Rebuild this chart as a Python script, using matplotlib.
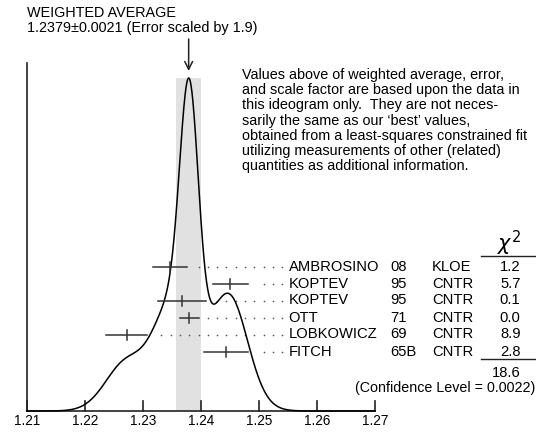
import numpy as np
import matplotlib
matplotlib.use("Agg")
import matplotlib.pyplot as plt

plt.rcParams['font.family'] = ['Liberation Sans', 'DejaVu Sans']

# measurements (K+- mean life, 10^-8 s)
names = ['AMBROSINO', 'KOPTEV', 'KOPTEV', 'OTT', 'LOBKOWICZ', 'FITCH']
years = ['08', '95', '95', '71', '69', '65B']
exps = ['KLOE', 'CNTR', 'CNTR', 'CNTR', 'CNTR', 'CNTR']
values = [1.2347, 1.2451, 1.2368, 1.2380, 1.2272, 1.2443]
errors = [0.0030, 0.0030, 0.0041, 0.0016, 0.0036, 0.0038]
chi2 = ['1.2', '5.7', '0.1', '0.0', '8.9', '2.8']
chi2_total = '18.6'
conf_level = '0.0022'
avg, avg_err, scale = 1.2379, 0.0021, 1.9
ticks = [1.21, 1.22, 1.23, 1.24, 1.25, 1.26, 1.27]

W, H = 536, 432
fig = plt.figure(figsize=(W / 100, H / 100), dpi=100)

# x in data units, y in pixels (top = 0)
x0_px, x1_px = 26.7, 375.0
ppu = (x1_px - x0_px) / (ticks[-1] - ticks[0])
ax = fig.add_axes([0, 0, 1, 1])
ax.set_xlim(ticks[0] - x0_px / ppu, ticks[-1] + (W - x1_px) / ppu)
ax.set_ylim(H, 0)
ax.axis('off')

# overlay in pure pixel coords for the text layout
ov = fig.add_axes([0, 0, 1, 1])
ov.set_xlim(0, W)
ov.set_ylim(H, 0)
ov.axis('off')
ov.patch.set_alpha(0)

base_y = 411
peak_y = 78
ink = '#222222'

# shaded band of the weighted average
ax.fill_between([avg - avg_err, avg + avg_err], peak_y, base_y,
                color='#e1e1e1', lw=0, zorder=0)

# ideogram: sum of gaussians, area ~ 1/sigma
xs = np.linspace(ticks[0], ticks[-1], 1200)
ideo = np.zeros_like(xs)
for v, e in zip(values, errors):
    ideo += np.exp(-0.5 * ((xs - v) / e) ** 2) / e ** 2
ys = base_y - (base_y - peak_y) * ideo / ideo.max()
ax.plot(xs, ys, color='black', lw=1.1, zorder=3)

# axis
ax.plot([ticks[0], ticks[-1]], [base_y, base_y], color=ink, lw=1.2)
ax.plot([ticks[0], ticks[0]], [63, base_y], color=ink, lw=1.2)
for t in ticks:
    ax.plot([t, t], [base_y - 10, base_y], color=ink, lw=1.2)
    ax.text(t, 421, '%.2f' % t, ha='center', va='center', fontsize=9.8)

# measurements with leader dots
row_y = [267, 284, 300.5, 317.5, 334.5, 351.5]
name_x = ticks[0] + (288.5 - x0_px) / ppu
step = 0.0016
for v, e, y in zip(values, errors, row_y):
    ax.plot([v - e, v + e], [y, y], color='#333333', lw=1.1, zorder=4)
    ax.plot([v, v], [y - 5, y + 5], color='#333333', lw=1.1, zorder=4)
    dots = name_x - 0.0011 - step * np.arange(0, 40)
    dots = dots[dots > v + e + 0.0015]
    ax.plot(dots, [y] * len(dots), ls='none', marker='o', ms=1.2,
            color='#555555', mec='none', zorder=2)

fs = 10.6
for n, yr, ex, c, y in zip(names, years, exps, chi2, row_y):
    ov.text(288.5, y, n, ha='left', va='center', fontsize=fs)
    ov.text(390, y, yr, ha='left', va='center', fontsize=fs)
    ov.text(432, y, ex, ha='left', va='center', fontsize=fs)
    ov.text(520.5, y, c, ha='right', va='center', fontsize=fs)

ov.text(509, 243, r'$\chi^2$', ha='center', va='center', fontsize=15)
ov.plot([481, 536], [256, 256], color=ink, lw=1)
ov.plot([481, 536], [359, 359], color=ink, lw=1)
ov.text(520.5, 373, chi2_total, ha='right', va='center', fontsize=fs)
ov.text(535, 388, '(Confidence Level = %s)' % conf_level,
        ha='right', va='center', fontsize=10.3)

# weighted average header and arrow
ov.text(27, 13, 'WEIGHTED AVERAGE', ha='left', va='center', fontsize=10.4)
ov.text(27, 28, '%.4f\u00b1%.4f (Error scaled by %.1f)' % (avg, avg_err, scale),
        ha='left', va='center', fontsize=10.4)
ax.annotate('', xy=(avg, 71), xytext=(avg, 39),
            arrowprops=dict(arrowstyle='->', color=ink, lw=1.1,
                            mutation_scale=14, shrinkA=0, shrinkB=0))

note = ['Values above of weighted average, error,',
        'and scale factor are based upon the data in',
        'this ideogram only.  They are not neces-',
        'sarily the same as our \u2018best\u2019 values,',
        'obtained from a least-squares constrained fit',
        'utilizing measurements of other (related)',
        'quantities as additional information.']
for i, line in enumerate(note):
    ov.text(242, 75 + 15.2 * i, line, ha='left', va='center', fontsize=10.4)

fig.savefig('out.png', dpi=100)
